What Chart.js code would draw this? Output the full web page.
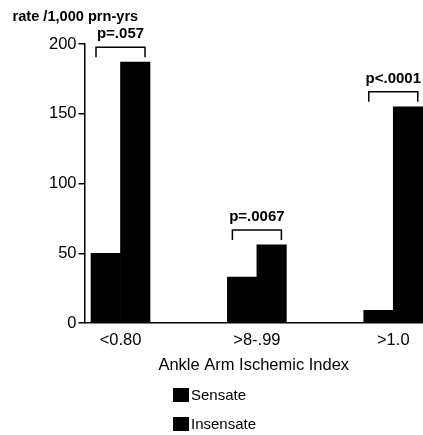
<!DOCTYPE html>
<html><head><meta charset="utf-8">
<script src="https://cdn.jsdelivr.net/npm/chart.js@4"></script>
<style>html,body{margin:0;padding:0;background:#fff;overflow:hidden}#wrap{position:relative;width:423px;height:435px}</style>
</head><body><div id="wrap"><canvas id="c" width="423" height="435"></canvas></div>
<script>
const categories = ['<0.80', '>8-.99', '>1.0'];
const sensate = [50, 33, 9];
const insensate = [187, 56, 155];
const pValues = ['p=.057', 'p=.0067', 'p<.0001'];
const yTicks = [0, 50, 100, 150, 200];
const seriesNames = ['Sensate', 'Insensate'];
const yTitle = 'rate /1,000 prn-yrs';
const xTitle = 'Ankle Arm Ischemic Index';

const FONT = '"Liberation Sans", Arial, Helvetica, sans-serif';
Chart.defaults.font.family = FONT;
Chart.defaults.color = '#000';

const toPoints = arr => arr.map((v, i) => ({x: i, y: v}));

const annotPlugin = {
  id: 'annot',
  afterDatasetsDraw(chart) {
    const ctx = chart.ctx;
    const m0 = chart.getDatasetMeta(0), m1 = chart.getDatasetMeta(1);
    ctx.save();
    ctx.strokeStyle = '#000';
    ctx.lineWidth = 1.5;
    ctx.fillStyle = '#000';
    ctx.font = 'bold 15px ' + FONT;
    ctx.textAlign = 'center';
    ctx.textBaseline = 'middle';
    pValues.forEach((txt, i) => {
      const a = m0.data[i], b = m1.data[i];
      const left = a.x - a.width / 2 + 5;
      const right = b.x + b.width / 2 - 5;
      const top = Math.min(a.y, b.y);
      const by = top - 15;
      ctx.beginPath();
      ctx.moveTo(left, by + 10);
      ctx.lineTo(left, by);
      ctx.lineTo(right, by);
      ctx.lineTo(right, by + 10);
      ctx.stroke();
      ctx.fillText(txt, (left + right) / 2, by - 13);
    });
    ctx.restore();
  },
  afterDraw(chart) {
    const ctx = chart.ctx;
    ctx.save();
    ctx.fillStyle = '#000';
    ctx.textBaseline = 'middle';
    ctx.textAlign = 'left';
    ctx.font = 'bold 14.6px ' + FONT;
    ctx.fillText(yTitle, 12.5, 17);
    ctx.font = '15px ' + FONT;
    seriesNames.forEach((name, i) => {
      const y = 388 + i * 29;
      ctx.fillStyle = chart.data.datasets[i].backgroundColor;
      ctx.fillRect(173, y, 16, 14);
      ctx.fillStyle = '#000';
      ctx.fillText(name, 191, y + 8);
    });
    ctx.restore();
  }
};

new Chart(document.getElementById('c'), {
  type: 'bar',
  data: {
    datasets: [
      {label: seriesNames[0], data: toPoints(sensate), backgroundColor: '#000', barThickness: 29.5},
      {label: seriesNames[1], data: toPoints(insensate), backgroundColor: '#000', barThickness: 29.5}
    ]
  },
  options: {
    responsive: false,
    animation: false,
    layout: {padding: {top: 44, left: 0, right: 0, bottom: 0}},
    plugins: {legend: {display: false}, tooltip: {enabled: false}},
    scales: {
      x: {
        type: 'linear',
        offset: false,
        min: -0.264, max: 2.218,
        grid: {display: false, offset: false},
        border: {display: true, color: '#000', width: 1.5},
        afterBuildTicks: s => { s.ticks = categories.map((_, i) => ({value: i})); },
        ticks: {callback: v => categories[v] ?? '', font: {size: 16.5}, padding: 0, maxRotation: 0, autoSkip: false, color: '#000'},
        title: {display: true, text: xTitle, font: {size: 16.5}, padding: {top: 0, bottom: 60}, color: '#000'},
        afterFit: s => { s.height = 112; }
      },
      y: {
        min: 0, max: 200,
        afterBuildTicks: s => { s.ticks = yTicks.map(v => ({value: v})); },
        grid: {display: true, drawOnChartArea: false, drawTicks: true, tickLength: 6, color: '#000', lineWidth: 1.5},
        border: {display: true, color: '#000', width: 1.5},
        ticks: {font: {size: 16.5}, padding: 2, color: '#000'},
        afterFit: s => { s.width = 84.5; }
      }
    }
  },
  plugins: [annotPlugin]
});
</script>
</body></html>
